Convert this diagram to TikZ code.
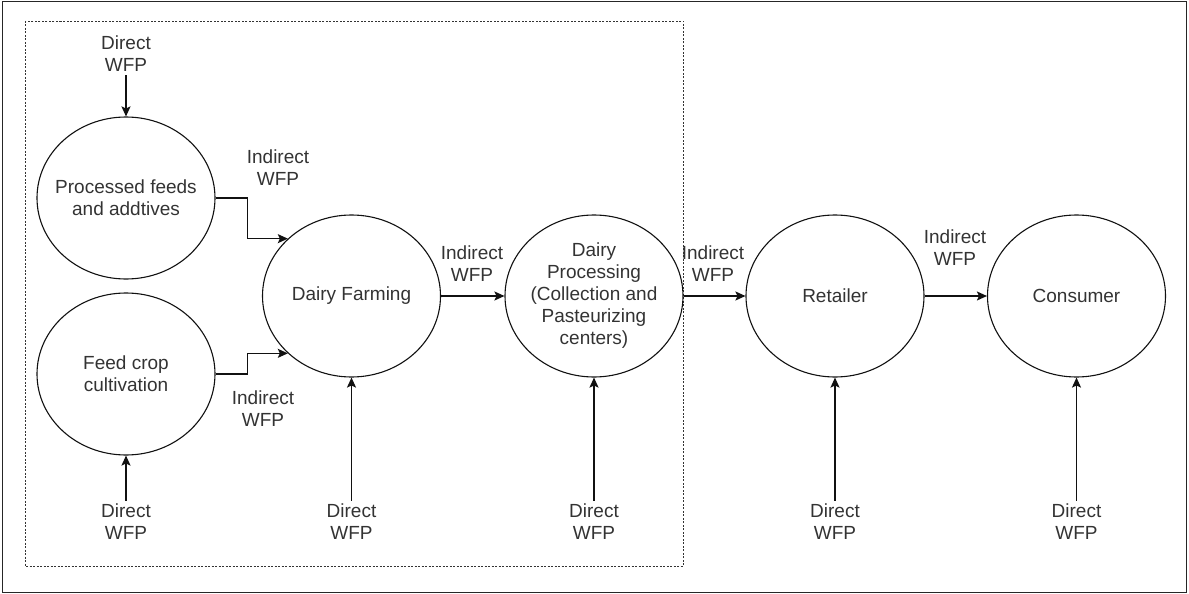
\documentclass[tikz,border=0pt]{standalone}
\usepackage{fontspec}
\setmainfont{Liberation Sans}
\usetikzlibrary{shapes.geometric,arrows.meta}
\definecolor{txt}{HTML}{333333}
\definecolor{ln}{HTML}{111111}
\tikzset{
  circ/.style={ellipse, draw=ln, line width=1.1pt, minimum width=178pt, minimum height=162pt, inner xsep=-30pt, inner ysep=0pt, align=center, text=txt, font=\fontsize{19}{22}\selectfont},
  lbl/.style={inner sep=1pt, align=center, text=txt, font=\fontsize{19}{22}\selectfont},
  arr/.style={draw=ln, line width=1.4pt, -{Stealth[length=10pt,width=9pt,inset=2pt]}},
}
\begin{document}
\begin{tikzpicture}[x=1pt,y=-1pt]
\useasboundingbox (0,0) rectangle (1189,594);
\draw[line width=1.4pt, draw=black!85] (2.5,1.5) rectangle (1186.5,592.5);
\draw[line width=0.8pt, dash pattern=on 2pt off 1.5pt, draw=black!80] (25,21) rectangle (683,566);

\node[circ] (pf) at (126,198) {Processed feeds\\and addtives};
\node[circ] (fc) at (126,374) {Feed crop\\cultivation};
\node[circ] (df) at (351.5,296) {Dairy Farming};
\node[circ] (dp) at (594,296) {Dairy\\Processing\\(Collection and\\Pasteurizing\\centers)};
\node[circ] (rt) at (835,296) {Retailer};
\node[circ] (cs) at (1076.5,296) {Consumer};

\node[lbl] (d1) at (126,54) {Direct\\WFP};
\node[lbl] (d2) at (126,522) {Direct\\WFP};
\node[lbl] (d3) at (351.5,522) {Direct\\WFP};
\node[lbl] (d4) at (594,522) {Direct\\WFP};
\node[lbl] (d5) at (835,522) {Direct\\WFP};
\node[lbl] (d6) at (1076.5,522) {Direct\\WFP};

\node[lbl] (i1) at (278,168) {Indirect\\WFP};
\node[lbl] (i2) at (263,409) {Indirect\\WFP};
\node[lbl] (i3) at (472,264) {Indirect\\WFP};
\node[lbl] (i4) at (713,264) {Indirect\\WFP};
\node[lbl] (i5) at (955,248) {Indirect\\WFP};

\draw[arr] ([yshift=-2pt]d1.south) -- (pf.north);
\draw[arr] ([yshift=2pt]d2.north) -- (fc.south);
\draw[arr] ([yshift=2pt]d3.north) -- (df.south);
\draw[arr] ([yshift=2pt]d4.north) -- (dp.south);
\draw[arr] ([yshift=2pt]d5.north) -- (rt.south);
\draw[arr] ([yshift=2pt]d6.north) -- (cs.south);

\draw[arr] (pf.east) -- ++(32,0) |- (df.138);
\draw[arr] (fc.east) -- ++(32,0) |- (df.222);
\draw[arr] (df.east) -- (dp.west);
\draw[arr] (dp.east) -- (rt.west);
\draw[arr] (rt.east) -- (cs.west);
\end{tikzpicture}
\end{document}
